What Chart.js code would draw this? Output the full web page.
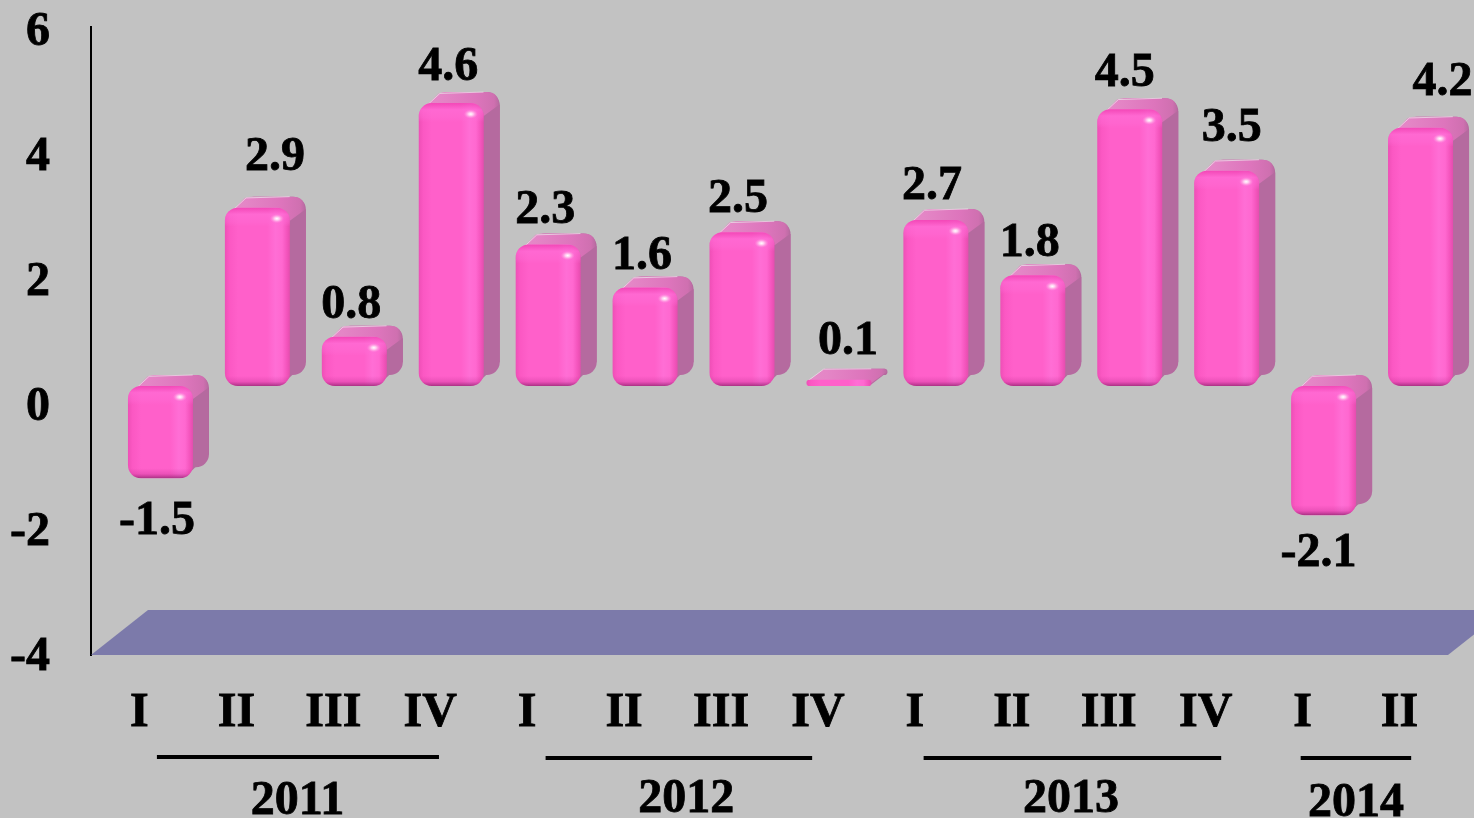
<!DOCTYPE html>
<html><head><meta charset="utf-8">
<style>html,body{margin:0;padding:0;background:#c2c2c2;overflow:hidden}canvas{display:block}</style>
<script src="https://cdn.jsdelivr.net/npm/chart.js@4"></script>
</head><body><canvas id="c" width="1474" height="818"></canvas>
<script>
const quarters=['I','II','III','IV','I','II','III','IV','I','II','III','IV','I','II'];
const growth=[-1.5,2.9,0.8,4.6,2.3,1.6,2.5,0.1,2.7,1.8,4.5,3.5,-2.1,4.2];
const yTicks=[-4,-2,0,2,4,6];
const years=['2011','2012','2013','2014'];
// year rules and captions, in category units of the x axis
const yearFrom=[0.18,4.19,8.09,11.98];
const yearTo=[3.09,6.94,11.16,13.12];
const yearCaption=[1.63,5.64,9.61,12.55];
const yearRuleY=[757,758,758,758];
const yearTextY=[802,800,800,804];
// hand placement of the value labels relative to the bar end
const labelDx=[-3.5,17.6,-3,-3,-3,-3,-4,9,-4,-3,-5,5,-5,22];
const labelDy=[43,-50,-31,-35,-33.5,-31,-33,-38,-33,-32,-36,-42,38,-45];

const FONT='bold 48px "Liberation Serif"';
const SHIFT=21, DX=16, DY=11, R=13;

function rr(c,x,y,w,h,r){r=Math.min(r,h/2,w/2);c.beginPath();c.moveTo(x+r,y);c.arcTo(x+w,y,x+w,y+h,r);c.arcTo(x+w,y+h,x,y+h,r);c.arcTo(x,y+h,x,y,r);c.arcTo(x,y,x+w,y,r);c.closePath();}
function box(el){const t=Math.min(el.y,el.base),b=Math.max(el.y,el.base),w=el.width;return{l:el.x-w/2,r:el.x+w/2,t,b,w,h:b-t};}

const scene={id:'scene',
 beforeDatasetsDraw(chart){
  const c=chart.ctx,a=chart.chartArea,fy=chart.scales.y.getPixelForValue(-4);
  c.save();c.fillStyle='#7c7aaa';c.beginPath();c.moveTo(a.left,fy);c.lineTo(a.left+57,fy-45);c.lineTo(a.right+57,fy-45);c.lineTo(a.right,fy);c.closePath();c.fill();c.restore();
  c.save();c.translate(SHIFT,0);
  chart.getDatasetMeta(0).data.forEach(el=>{
   const f=box(el),r=Math.min(R,f.h/2);
   c.fillStyle='#b56a9f';
   rr(c,f.l+DX,f.t-DY,f.w,f.h,r);c.fill();
   c.beginPath();c.moveTo(f.r-r,f.t+1);c.lineTo(f.r-r+DX,f.t-DY+1);c.lineTo(f.r+DX,f.t-DY+r);c.lineTo(f.r+DX,f.b-DY-r);c.lineTo(f.r-r*.6,f.b-r*.1);c.closePath();c.fill();
   const g=c.createLinearGradient(f.l,0,f.r+DX,0);
   g.addColorStop(0,'#e68ac8');g.addColorStop(.25,'#e486c6');g.addColorStop(.7,'#dd75bc');g.addColorStop(.93,'#cf70b0');g.addColorStop(1,'#b56a9f');
   c.fillStyle=g;c.beginPath();c.moveTo(f.l+r*.3,f.t+r*.5);c.lineTo(f.l+DX+r*.3,f.t-DY+r*.1);c.quadraticCurveTo(f.l+DX+r*.6,f.t-DY,f.l+DX+r,f.t-DY);
   c.lineTo(f.r+DX-r,f.t-DY);c.quadraticCurveTo(f.r+DX-1,f.t-DY,f.r+DX-1,f.t-DY+r);c.lineTo(f.r,f.t+r);c.lineTo(f.r-r,f.t+r*.3);c.closePath();c.fill();
   c.strokeStyle='rgba(235,225,232,.75)';c.lineWidth=1;c.beginPath();c.moveTo(f.l+r*.5,f.t+r*.3);c.lineTo(f.l+DX+r*.4,f.t-DY+r*.1);c.lineTo(f.l+f.w*.75+DX,f.t-DY);c.stroke();
  });
 },
 afterDatasetsDraw(chart){
  const c=chart.ctx;
  chart.getDatasetMeta(0).data.forEach(el=>{
   const f=box(el),r=Math.min(R,f.h/2);
   c.save();rr(c,f.l,f.t,f.w,f.h,r);c.clip();
   if(f.h>20){
    let g=c.createLinearGradient(0,f.b-10,0,f.b);
    g.addColorStop(0,'rgba(170,30,125,0)');g.addColorStop(.55,'rgba(170,30,125,.22)');g.addColorStop(1,'rgba(130,30,100,.7)');
    c.fillStyle=g;c.fillRect(f.l,f.b-10,f.w,10);
    g=c.createLinearGradient(0,f.t,0,f.t+19);
    g.addColorStop(0,'rgba(235,55,170,.6)');g.addColorStop(.35,'rgba(255,110,215,.6)');g.addColorStop(.75,'rgba(255,110,215,.35)');g.addColorStop(1,'rgba(255,110,215,0)');
    c.fillStyle=g;c.fillRect(f.l,f.t,f.w,19);
    c.translate(f.r-13,f.t+11);c.scale(1,.65);
    const s=c.createRadialGradient(0,0,0,0,0,7);
    s.addColorStop(0,'rgba(255,255,255,1)');s.addColorStop(.35,'rgba(255,235,248,.75)');s.addColorStop(1,'rgba(255,160,225,0)');
    c.fillStyle=s;c.fillRect(-8,-8,16,16);
   }
   c.restore();
  });
  c.restore();
  c.save();c.font=FONT;c.fillStyle='#000';c.strokeStyle='#000';c.lineWidth=.8;c.textAlign='center';c.textBaseline='middle';
  chart.getDatasetMeta(0).data.forEach((el,i)=>{const t=growth[i].toFixed(1),x=el.x+SHIFT+labelDx[i],y=el.y+labelDy[i];c.fillText(t,x,y);c.strokeText(t,x,y);});
  const x=chart.scales.x;
  years.forEach((yr,i)=>{
   c.fillRect(x.getPixelForValue(yearFrom[i]),yearRuleY[i]-2,x.getPixelForValue(yearTo[i])-x.getPixelForValue(yearFrom[i]),4);
   const tx=x.getPixelForValue(yearCaption[i]);c.fillText(yr,tx,yearTextY[i]);c.strokeText(yr,tx,yearTextY[i]);
  });
  c.restore();
 }
};

function frontFill(ctx){
 const chart=ctx.chart,xs=chart.scales.x;
 if(!xs||!chart.chartArea)return '#ff60ca';
 const cx=xs.getPixelForValue(ctx.dataIndex),l=cx-32.5;
 const g=chart.ctx.createLinearGradient(l,0,l+65,0);
 g.addColorStop(0,'#ee4fb6');g.addColorStop(.07,'#fb58c3');g.addColorStop(.2,'#ff60ca');g.addColorStop(.65,'#ff60ca');
 g.addColorStop(.78,'#ff6ed5');g.addColorStop(.88,'#ff68d0');g.addColorStop(.95,'#f455bd');g.addColorStop(1,'#e44dae');
 return g;
}

const tickFont={family:'Liberation Serif',weight:'bold',size:48};
new Chart(document.getElementById('c'),{
 type:'bar',
 data:{labels:quarters,datasets:[{data:growth,yAxisID:'yBar',xAxisID:'x',barThickness:65,backgroundColor:frontFill,borderWidth:0,borderRadius:R,borderSkipped:false,inflateAmount:0,clip:false}]},
 plugins:[scene],
 options:{responsive:false,animation:false,devicePixelRatio:1,
  layout:{autoPadding:false,padding:{top:27,right:26,bottom:0,left:0}},
  plugins:{legend:{display:false},tooltip:{enabled:false},title:{display:false}},
  scales:{
   x:{type:'category',offset:true,grid:{display:false,drawTicks:false},border:{display:false},
      afterFit(s){s.height=163;s.paddingLeft=0;s.paddingRight=0;},
      ticks:{color:'#000',font:tickFont,padding:30,maxRotation:0,autoSkip:false,textStrokeColor:'#000',textStrokeWidth:.8}},
   y:{type:'linear',position:'left',min:-4,max:6.048,
      afterBuildTicks(s){s.ticks=yTicks.map(v=>({value:v}));},
      afterFit(s){s.width=91;s.paddingTop=0;s.paddingBottom=0;},
      grid:{display:false,drawTicks:false},border:{display:true,color:'#000',width:2},
      ticks:{color:'#000',font:tickFont,padding:41,labelOffset:3,callback:v=>String(v),textStrokeColor:'#000',textStrokeWidth:.8}},
   yBar:{type:'linear',display:false,min:-4.374,max:5.837}
  }
 }
});
</script></body></html>
